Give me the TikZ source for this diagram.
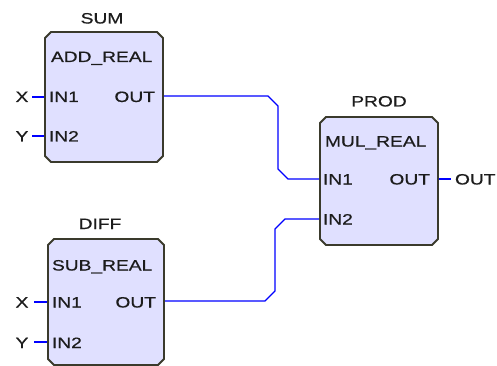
\documentclass[tikz,border=0pt]{standalone}
\usepackage{fontspec}
\setmainfont{Liberation Sans}[FakeStretch=1.28,FakeBold=0.6]
\definecolor{boxfill}{RGB}{224,224,255}
\definecolor{bord}{RGB}{58,58,44}
\definecolor{wireblue}{RGB}{0,0,255}
\definecolor{txt}{RGB}{28,28,28}
\newcommand{\chbox}[1]{%
  \draw[fbline] ([yshift=-6pt]#1.north west) -- ([xshift=6pt]#1.north west)
    -- ([xshift=-6pt]#1.north east) -- ([yshift=-6pt]#1.north east)
    -- ([yshift=6pt]#1.south east) -- ([xshift=-6pt]#1.south east)
    -- ([xshift=6pt]#1.south west) -- ([yshift=6pt]#1.south west) -- cycle;}
\begin{document}
\begin{tikzpicture}[x=1pt,y=-1pt,
  lbl/.style={inner sep=0pt, outer sep=0pt, font=\fontsize{15}{17}\selectfont, text=txt},
  fb/.style={rectangle, inner sep=0pt, outer sep=0pt},
  fbline/.style={draw=bord, line width=1.8pt, fill=boxfill, line join=miter},
  wire/.style={draw=wireblue, line width=1.4pt},
  pin/.style={draw=wireblue, line width=1.4pt}]
\useasboundingbox (0,0) rectangle (497,366);

% named pin coordinates
\coordinate (sumX) at (32,97);   \coordinate (sumIN1) at (45,97);
\coordinate (sumY) at (32,136);  \coordinate (sumIN2) at (45,136);
\coordinate (sumOUT) at (163,96);
\coordinate (difX) at (34,302);  \coordinate (difIN1) at (48,302);
\coordinate (difY) at (34,342);  \coordinate (difIN2) at (48,342);
\coordinate (difOUT) at (164,301);
\coordinate (prodIN1) at (320,179);
\coordinate (prodIN2) at (320,219);
\coordinate (prodOUT) at (438,179);
\coordinate (extOUT) at (451,179);

% wires
\draw[wire] (sumOUT) -- ++(105,0) -- ++(10,10) -- ++(0,63) -- ++(10,10) -- (prodIN1);
\draw[wire] (difOUT) -- ++(101,0) -- ++(10,-10) -- ++(0,-62) -- ++(10,-10) -- (prodIN2);
\draw[pin] (sumX) -- (sumIN1);
\draw[pin] (sumY) -- (sumIN2);
\draw[pin] (difX) -- (difIN1);
\draw[pin] (difY) -- (difIN2);
\draw[pin] (prodOUT) -- (extOUT);

% blocks
\node[fb, minimum width=118pt, minimum height=130pt] (sum) at (104,97) {};
\node[fb, minimum width=116pt, minimum height=126pt] (diff) at (106,302) {};
\node[fb, minimum width=118pt, minimum height=128pt] (prod) at (379,181) {};
\chbox{sum}
\chbox{diff}
\chbox{prod}

% SUM texts
\node[lbl, anchor=base] (sumname) at (102,23.5) {SUM};
\node[lbl, anchor=base west] (sumtype) at (51,62) {ADD\_REAL};
\node[lbl, anchor=base west] (sumi1) at (49,102) {IN1};
\node[lbl, anchor=base east] (sumo) at (155,102) {OUT};
\node[lbl, anchor=base west] (sumi2) at (49,141.5) {IN2};
\node[lbl, anchor=base] (sumxl) at (22,102) {X};
\node[lbl, anchor=base] (sumyl) at (22,141.5) {Y};

% DIFF texts
\node[lbl, anchor=base] (difname) at (100,229) {DIFF};
\node[lbl, anchor=base west] (diftype) at (52,270.5) {SUB\_REAL};
\node[lbl, anchor=base west] (difi1) at (52,307.5) {IN1};
\node[lbl, anchor=base east] (difo) at (156,307.5) {OUT};
\node[lbl, anchor=base west] (difi2) at (52,348) {IN2};
\node[lbl, anchor=base] (difxl) at (22,307.5) {X};
\node[lbl, anchor=base] (difyl) at (22,348) {Y};

% PROD texts
\node[lbl, anchor=base] (prodname) at (379,106.5) {PROD};
\node[lbl, anchor=base west] (prodtype) at (325,146.5) {MUL\_REAL};
\node[lbl, anchor=base west] (prodi1) at (323,184.5) {IN1};
\node[lbl, anchor=base east] (prodo) at (430,184.5) {OUT};
\node[lbl, anchor=base west] (prodi2) at (323,224.5) {IN2};
\node[lbl, anchor=base west] (extOUTl) at (455,184.5) {OUT};
\end{tikzpicture}
\end{document}
